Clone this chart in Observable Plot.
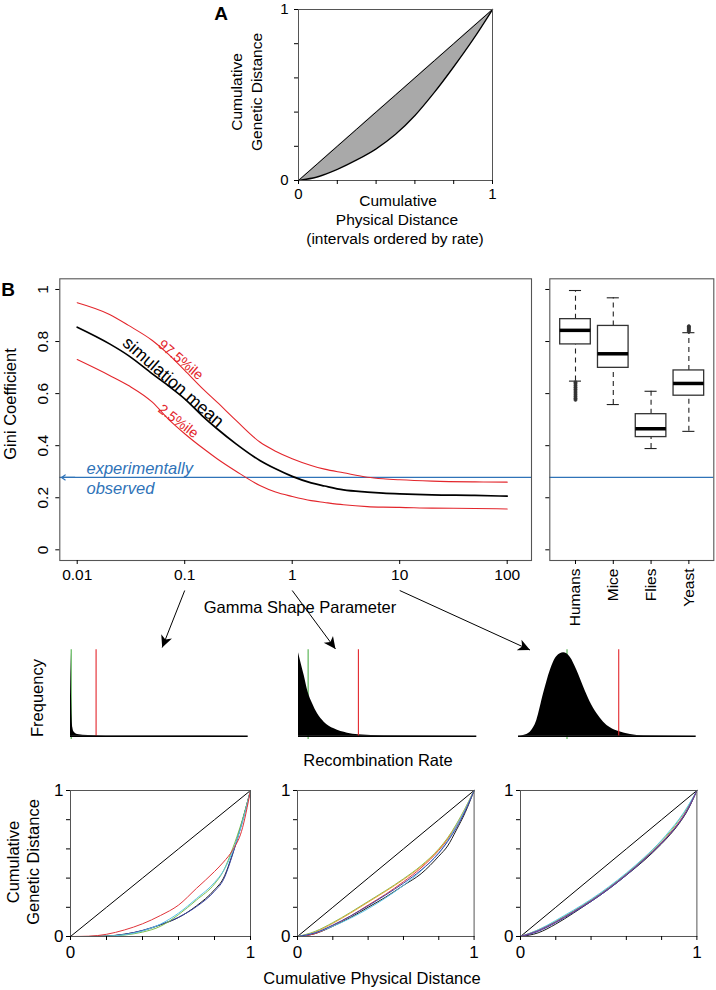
<!DOCTYPE html>
<html>
<head>
<meta charset="utf-8">
<script src="https://cdn.jsdelivr.net/npm/d3@7"></script>
<script src="https://cdn.jsdelivr.net/npm/@observablehq/plot@0.6"></script>
<style>
  html, body { margin: 0; padding: 0; background: #fff; }
  #fig { position: relative; width: 716px; height: 990px; overflow: hidden; background: #fff;
         font-family: "Liberation Sans", Arial, sans-serif; color: #000; }
  #fig svg { overflow: visible; }
</style>
</head>
<body>
<div id="fig"></div>
<script>
// ---------------- DATA ----------------
// Panel A: Lorenz curve (intervals ordered by rate)
const lorenzA_physical = [0, 0.1, 0.2, 0.3, 0.4, 0.5, 0.6, 0.7, 0.8, 0.9, 1];
const lorenzA_genetic  = [0, 0.022, 0.065, 0.12, 0.185, 0.27, 0.38, 0.515, 0.665, 0.825, 1];

// Panel B: Gini coefficient vs gamma shape parameter
const gammaShape = [0.01, 0.02, 0.03, 0.05, 0.07, 0.1, 0.15, 0.2, 0.3, 0.5, 0.7, 1, 1.5, 2, 3, 5, 7, 10, 20, 50, 100];
const giniMean = [0.855, 0.791, 0.746, 0.676, 0.631, 0.580, 0.510, 0.465, 0.407, 0.343, 0.311, 0.282, 0.257, 0.245, 0.230, 0.222, 0.218, 0.215, 0.211, 0.209, 0.206];
const giniHi   = [0.949, 0.904, 0.862, 0.804, 0.753, 0.689, 0.615, 0.567, 0.497, 0.414, 0.379, 0.350, 0.324, 0.310, 0.296, 0.279, 0.273, 0.269, 0.264, 0.261, 0.260];
const giniLo   = [0.731, 0.670, 0.631, 0.567, 0.503, 0.446, 0.388, 0.350, 0.302, 0.247, 0.222, 0.205, 0.189, 0.182, 0.173, 0.166, 0.164, 0.163, 0.160, 0.159, 0.157];
const observedGini = 0.278;
const giniTicks = [0, 0.2, 0.4, 0.6, 0.8, 1];
const gammaTicks = [0.01, 0.1, 1, 10, 100];

// Panel B right: boxplots by species
const species = ["Humans", "Mice", "Flies", "Yeast"];
const boxLowWhisker  = [0.648, 0.558, 0.389, 0.455];
const boxQ1          = [0.789, 0.699, 0.433, 0.592];
const boxMedian      = [0.843, 0.753, 0.465, 0.639];
const boxQ3          = [0.886, 0.860, 0.521, 0.689];
const boxHighWhisker = [0.996, 0.968, 0.609, 0.834];
const outlierSpecies = ["Humans","Humans","Humans","Humans","Humans","Humans","Humans","Humans","Humans","Humans","Humans",
                        "Yeast","Yeast","Yeast","Yeast","Yeast","Yeast"];
const outlierGini    = [0.644, 0.638, 0.631, 0.624, 0.617, 0.610, 0.603, 0.596, 0.589, 0.582, 0.576,
                        0.838, 0.843, 0.848, 0.852, 0.856, 0.859];

// Histograms of recombination rate (shape 0.1, 1, 10), normalized
const histShapes = [0.1, 1, 10];
const hist1Rate = [0, 0.003, 0.006, 0.009, 0.013, 0.02, 0.04, 0.1, 0.2, 0.5, 1];
const hist1Freq = [1, 0.75, 0.45, 0.22, 0.1, 0.05, 0.02, 0.008, 0.003, 0.001, 0];
const hist2Rate = [0, 0.013, 0.032, 0.054, 0.079, 0.107, 0.144, 0.2, 0.275, 0.336, 0.48, 1];
const hist2Freq = [1, 0.888, 0.728, 0.528, 0.388, 0.268, 0.168, 0.088, 0.036, 0.016, 0.004, 0];
const hist3Rate = [0, 0.028, 0.066, 0.103, 0.141, 0.179, 0.216, 0.254, 0.291, 0.329, 0.367, 0.404, 0.442, 0.479, 0.517, 0.564, 0.63, 0.705, 1];
const hist3Freq = [0, 0.008, 0.048, 0.188, 0.508, 0.788, 0.956, 1, 0.948, 0.788, 0.588, 0.408, 0.268, 0.168, 0.10, 0.056, 0.02, 0.004, 0];
const histGreenRate = [0.004, 0.054, 0.273];
const histRedRate   = [0.144, 0.336, 0.564];

// Bottom Lorenz curves (simulated replicates)
const lorenzP = [0, 0.1, 0.2, 0.3, 0.4, 0.5, 0.6, 0.7, 0.8, 0.85, 0.9, 0.95, 1];
const lorenz1 = {
  black: [0, 0, 0.003, 0.016, 0.04, 0.08, 0.13, 0.21, 0.32, 0.40, 0.565, 0.77, 1],
  blue:  [0, 0, 0.003, 0.015, 0.042, 0.082, 0.132, 0.205, 0.31, 0.39, 0.56, 0.77, 1],
  green: [0, 0, 0.002, 0.01, 0.03, 0.07, 0.15, 0.25, 0.36, 0.45, 0.60, 0.78, 1],
  cyan:  [0, 0, 0.002, 0.012, 0.038, 0.085, 0.16, 0.26, 0.37, 0.45, 0.58, 0.76, 1],
  red:   [0, 0.002, 0.015, 0.045, 0.087, 0.144, 0.215, 0.33, 0.445, 0.51, 0.59, 0.72, 1]
};
const lorenz2 = {
  black:  [0, 0.02, 0.07, 0.13, 0.2, 0.27, 0.35, 0.43, 0.55, 0.62, 0.73, 0.85, 1],
  red:    [0, 0.02, 0.075, 0.14, 0.215, 0.29, 0.375, 0.47, 0.59, 0.665, 0.76, 0.87, 1],
  green:  [0, 0.035, 0.095, 0.165, 0.24, 0.315, 0.395, 0.485, 0.60, 0.675, 0.77, 0.88, 1],
  orange: [0, 0.03, 0.09, 0.16, 0.235, 0.31, 0.39, 0.48, 0.595, 0.67, 0.765, 0.875, 1],
  cyan:   [0, 0.025, 0.07, 0.125, 0.19, 0.265, 0.35, 0.45, 0.575, 0.655, 0.76, 0.87, 1],
  blue:   [0, 0.025, 0.078, 0.14, 0.21, 0.285, 0.365, 0.455, 0.57, 0.65, 0.745, 0.86, 1]
};
const lorenz3 = {
  black:  [0, 0.025, 0.085, 0.16, 0.24, 0.325, 0.42, 0.52, 0.635, 0.70, 0.775, 0.87, 1],
  red:    [0, 0.04, 0.1, 0.17, 0.245, 0.33, 0.425, 0.53, 0.645, 0.71, 0.785, 0.88, 1],
  green:  [0, 0.045, 0.105, 0.175, 0.25, 0.335, 0.43, 0.535, 0.655, 0.72, 0.80, 0.89, 1],
  cyan:   [0, 0.045, 0.11, 0.18, 0.255, 0.34, 0.435, 0.54, 0.66, 0.73, 0.805, 0.895, 1],
  blue:   [0, 0.035, 0.095, 0.165, 0.24, 0.325, 0.42, 0.525, 0.64, 0.705, 0.78, 0.875, 1],
  purple: [0, 0.04, 0.1, 0.17, 0.245, 0.33, 0.425, 0.528, 0.642, 0.707, 0.782, 0.877, 1]
};
const unitTicks = [0, 0.2, 0.4, 0.6, 0.8, 1];

// ---------------- STYLE / LAYOUT ----------------
const FONT = '"Liberation Sans", Arial, sans-serif';
const RED = "#e3262c";
const BLUE = "#2f73b8";
const GREEN = "#4fb04a";
const lineColors = {black: "#1a1a1a", blue: "#3a45a8", green: "#7cbf4e", cyan: "#5cc4e6", red: "#e0343a", orange: "#e8a33a", purple: "#7d3f98"};
const fig = document.getElementById("fig");

function put(node, left, top) {
  node.style.position = "absolute";
  node.style.left = left + "px";
  node.style.top = top + "px";
  fig.appendChild(node);
  return node;
}
function label(text, cx, cy, o = {}) {
  const d = document.createElement("div");
  d.textContent = text;
  const tx = o.align === "start" ? "0" : "-50%";
  d.style.cssText = `position:absolute;left:${cx}px;top:${cy}px;transform:translate(${tx},-50%) rotate(${o.rotate || 0}deg);` +
    `font-size:${o.size || 16}px;white-space:nowrap;line-height:1;color:${o.color || "#000"};` +
    `font-weight:${o.bold ? "bold" : "normal"};font-style:${o.italic ? "italic" : "normal"};font-family:${FONT};`;
  fig.appendChild(d);
}
const fmt01 = d => (d === 0 ? "0" : d === 1 ? "1" : "");

// ---------------- PANEL A ----------------
const dataA = lorenzA_physical.map((p, i) => ({p, L: lorenzA_genetic[i]}));
const plotA = Plot.plot({
  width: 252, height: 205, marginLeft: 48, marginRight: 10, marginTop: 9, marginBottom: 25,
  x: {domain: [0, 1]}, y: {domain: [0, 1]},
  style: {fontSize: "15px", fontFamily: FONT, color: "#000", background: "transparent", overflow: "visible"},
  marks: [
    Plot.areaY(dataA, {x: "p", y1: "L", y2: "p", fill: "#a9a9a9", curve: "monotone-x"}),
    Plot.line(dataA, {x: "p", y: "p", stroke: "#000", strokeWidth: 1}),
    Plot.line(dataA, {x: "p", y: "L", stroke: "#000", strokeWidth: 1.4, curve: "monotone-x"}),
    Plot.frame({stroke: "#555", strokeWidth: 1}),
    Plot.axisX({ticks: unitTicks, tickFormat: fmt01, tickSize: 4, tickPadding: 4, label: null}),
    Plot.axisY({ticks: unitTicks, tickFormat: fmt01, tickSize: 4, tickPadding: 6, label: null})
  ]
});
put(plotA, 250, 0);
label("A", 221, 13, {size: 19, bold: true});
label("Cumulative", 237, 92, {size: 15.5, rotate: -90});
label("Genetic Distance", 257, 92, {size: 15.5, rotate: -90});
label("Cumulative", 398, 201, {size: 15.5});
label("Physical Distance", 397, 220, {size: 15.5});
label("(intervals ordered by rate)", 395, 239, {size: 15.5});

// ---------------- PANEL B MAIN ----------------
const dataB = gammaShape.map((g, i) => ({g, mean: giniMean[i], hi: giniHi[i], lo: giniLo[i]}));
const curveLabels = [
  {g: 0.0722, v: 0.628, text: "simulation mean", rotate: 41, color: "#000", size: 17.5},
  {g: 0.0863, v: 0.717, text: "97.5%ile", rotate: 40, color: RED, size: 14},
  {g: 0.0821, v: 0.480, text: "2.5%ile", rotate: 37, color: RED, size: 14}
];
const yDomB = [-0.041, 1.041];
const plotB = Plot.plot({
  width: 540, height: 320, marginLeft: 59.3, marginRight: 9, marginTop: 8.3, marginBottom: 30,
  x: {type: "log", domain: [0.006886, 168.3]},
  y: {domain: yDomB},
  style: {fontSize: "15.5px", fontFamily: FONT, color: "#000", background: "transparent", overflow: "visible"},
  marks: [
    Plot.ruleY([observedGini], {stroke: BLUE, strokeWidth: 1.2}),
    Plot.arrow([observedGini], {x1: 0.0095, x2: 0.00715, y1: d => d, y2: d => d, stroke: BLUE, strokeWidth: 1.2, headLength: 6, headAngle: 70}),
    Plot.line(dataB, {x: "g", y: "hi", stroke: RED, strokeWidth: 1.1, curve: "monotone-x"}),
    Plot.line(dataB, {x: "g", y: "lo", stroke: RED, strokeWidth: 1.1, curve: "monotone-x"}),
    Plot.line(dataB, {x: "g", y: "mean", stroke: "#000", strokeWidth: 1.7, curve: "monotone-x"}),
    Plot.text(curveLabels, {x: "g", y: "v", text: "text", rotate: "rotate", fill: d => d.color, fontSize: d => d.size, lineAnchor: "bottom"}),
    Plot.text([observedGini], {x: 0.0122, y: d => d, text: () => "experimentally\nobserved", textAnchor: "start",
      lineHeight: 1.2, fill: BLUE, fontStyle: "italic", fontSize: 16.5}),
    Plot.frame({stroke: "#555", strokeWidth: 1.1}),
    Plot.axisX({ticks: gammaTicks, tickFormat: d => String(d), tickSize: 4, tickPadding: 4, label: null}),
    Plot.axisY({ticks: giniTicks, tickFormat: () => "", tickSize: 4, label: null}),
    Plot.text(giniTicks, {y: d => d, frameAnchor: "left", dx: -12, rotate: -90, text: d => String(d),
      textAnchor: "middle", lineAnchor: "bottom", fontSize: 15.5})
  ]
});
put(plotB, 0, 270);
label("B", 8, 289, {size: 19, bold: true});
label("Gini Coefficient", 10, 404, {size: 16.5, rotate: -90});
label("Gamma Shape Parameter", 300, 607, {size: 16.5});

// ---------------- PANEL B BOXPLOTS ----------------
const boxes = species.map((s, i) => ({s, pos: i + 1, lw: boxLowWhisker[i], q1: boxQ1[i], med: boxMedian[i], q3: boxQ3[i], hw: boxHighWhisker[i]}));
const outliers = outlierSpecies.map((s, i) => ({pos: species.indexOf(s) + 1, v: outlierGini[i]}));
const bw = 0.405, cw = 0.16;
const plotBox = Plot.plot({
  width: 176, height: 370, marginLeft: 9.3, marginRight: 2.7, marginTop: 8.3, marginBottom: 80,
  x: {domain: [0.32, 4.66]},
  y: {domain: yDomB},
  style: {fontSize: "15.5px", fontFamily: FONT, color: "#000", background: "transparent", overflow: "visible"},
  marks: [
    Plot.ruleY([observedGini], {stroke: BLUE, strokeWidth: 1.2}),
    Plot.ruleX(boxes, {x: "pos", y1: "q3", y2: "hw", stroke: "#222", strokeWidth: 1.1, strokeDasharray: "5,4"}),
    Plot.ruleX(boxes, {x: "pos", y1: "lw", y2: "q1", stroke: "#222", strokeWidth: 1.1, strokeDasharray: "5,4"}),
    Plot.ruleY(boxes, {y: "hw", x1: d => d.pos - cw, x2: d => d.pos + cw, stroke: "#222", strokeWidth: 1.1}),
    Plot.ruleY(boxes, {y: "lw", x1: d => d.pos - cw, x2: d => d.pos + cw, stroke: "#222", strokeWidth: 1.1}),
    Plot.rect(boxes, {x1: d => d.pos - bw, x2: d => d.pos + bw, y1: "q1", y2: "q3", fill: "#fff", stroke: "#333", strokeWidth: 1.3}),
    Plot.ruleY(boxes, {y: "med", x1: d => d.pos - bw, x2: d => d.pos + bw, stroke: "#000", strokeWidth: 3.5}),
    Plot.dot(outliers, {x: "pos", y: "v", r: 1.6, fill: "#333", stroke: "#333", strokeWidth: 0.6}),
    Plot.frame({stroke: "#555", strokeWidth: 1.1}),
    Plot.axisX({ticks: [1, 2, 3, 4], tickFormat: d => species[d - 1], tickSize: 4, tickPadding: 4, tickRotate: -90, label: null}),
    Plot.axisY({ticks: giniTicks, tickFormat: () => "", tickSize: 4, label: null})
  ]
});
put(plotBox, 540, 270);

// ---------------- HISTOGRAMS ----------------
const histSets = [
  {rate: hist1Rate, freq: hist1Freq, left: 60, mr: 12.3},
  {rate: hist2Rate, freq: hist2Freq, left: 287.7, mr: 11.7},
  {rate: hist3Rate, freq: hist3Freq, left: 507.7, mr: 12.3}
];
histSets.forEach((h, k) => {
  const data = h.rate.map((r, i) => ({r, f: h.freq[i]}));
  const p = Plot.plot({
    width: 200, height: 110, marginLeft: 10, marginRight: h.mr, marginTop: 9.3, marginBottom: 14.3,
    x: {domain: [0, 1], axis: null}, y: {domain: [0, 1.036], axis: null},
    style: {background: "transparent", overflow: "visible"},
    marks: [
      Plot.ruleX([histGreenRate[k]], {x: d => d, y1: -0.04, y2: 1.036, stroke: GREEN, strokeWidth: 1.1}),
      Plot.areaY(data, {x: "r", y: "f", fill: "#000", curve: "monotone-x"}),
      Plot.ruleX([histRedRate[k]], {x: d => d, y1: -0.01, y2: 1.036, stroke: RED, strokeWidth: 1.1}),
      Plot.ruleY([0], {stroke: "#000", strokeWidth: 1.6})
    ]
  });
  put(p, h.left, 640);
});
label("Frequency", 37, 698, {size: 16.5, rotate: -90});
label("Recombination Rate", 378, 760, {size: 16.5});

// ---------------- BOTTOM LORENZ PANELS ----------------
function lorenzPanel(series, left, plotWidth) {
  const rows = [];
  for (const [name, vals] of Object.entries(series)) {
    vals.forEach((v, i) => rows.push({name, p: lorenzP[i], L: v}));
  }
  const p = Plot.plot({
    width: 30 + plotWidth + 10, height: 190, marginLeft: 30, marginRight: 10, marginTop: 10, marginBottom: 34,
    x: {domain: [0, 1]}, y: {domain: [0, 1]},
    style: {fontSize: "17px", fontFamily: FONT, color: "#000", background: "transparent", overflow: "visible"},
    marks: [
      Plot.line(unitTicks, {x: d => d, y: d => d, stroke: "#000", strokeWidth: 1}),
      Plot.line(rows, {x: "p", y: "L", z: "name", stroke: d => lineColors[d.name], strokeWidth: 1, curve: "monotone-x"}),
      Plot.frame({stroke: "#555", strokeWidth: 1}),
      Plot.axisX({ticks: unitTicks, tickFormat: fmt01, tickSize: 4, tickPadding: 5, label: null}),
      Plot.axisY({ticks: unitTicks, tickFormat: fmt01, tickSize: 4, tickPadding: 3, label: null})
    ]
  });
  return put(p, left - 30, 780);
}
lorenzPanel(lorenz1, 70, 180);
lorenzPanel(lorenz2, 296.7, 176.6);
lorenzPanel(lorenz3, 520.3, 176.4);
label("Cumulative", 13, 862, {size: 16.5, rotate: -90});
label("Genetic Distance", 33, 862, {size: 16.5, rotate: -90});
label("Cumulative Physical Distance", 372, 978, {size: 16.5});

// ---------------- OVERLAY ARROWS (gamma tick -> histogram) ----------------
const bx = plotB.scale("x");
const arrowTips = [[161.7, 647], [335, 648.5], [529.5, 649.5]];
const arrows = histShapes.map((g, i) => ({x1: bx.apply(g), y1: 590, x2: arrowTips[i][0], y2: arrowTips[i][1]}));
arrows.forEach(a => {
  const dx = a.x2 - a.x1, dy = a.y2 - a.y1;
  a.rot = Math.atan2(dx, -dy) * 180 / Math.PI;
});
const barb = {
  draw(ctx, size) {
    const L = 2 * Math.sqrt(size / Math.PI);
    ctx.moveTo(0, 0);
    ctx.lineTo(0.48 * L, L);
    ctx.lineTo(0, 0.72 * L);
    ctx.lineTo(-0.48 * L, L);
    ctx.closePath();
  }
};
const overlay = Plot.plot({
  width: 716, height: 990, margin: 0,
  x: {domain: [0, 716], range: [0, 716], axis: null},
  y: {domain: [0, 990], range: [0, 990], axis: null},
  style: {background: "transparent", overflow: "visible"},
  marks: [
    Plot.link(arrows, {x1: "x1", y1: "y1", x2: "x2", y2: "y2", stroke: "#000", strokeWidth: 1}),
    Plot.dot(arrows, {x: "x2", y: "y2", symbol: barb, r: 6, fill: "#000", stroke: "none", rotate: "rot"})
  ]
});
overlay.style.pointerEvents = "none";
put(overlay, 0, 0);
</script>
</body>
</html>
